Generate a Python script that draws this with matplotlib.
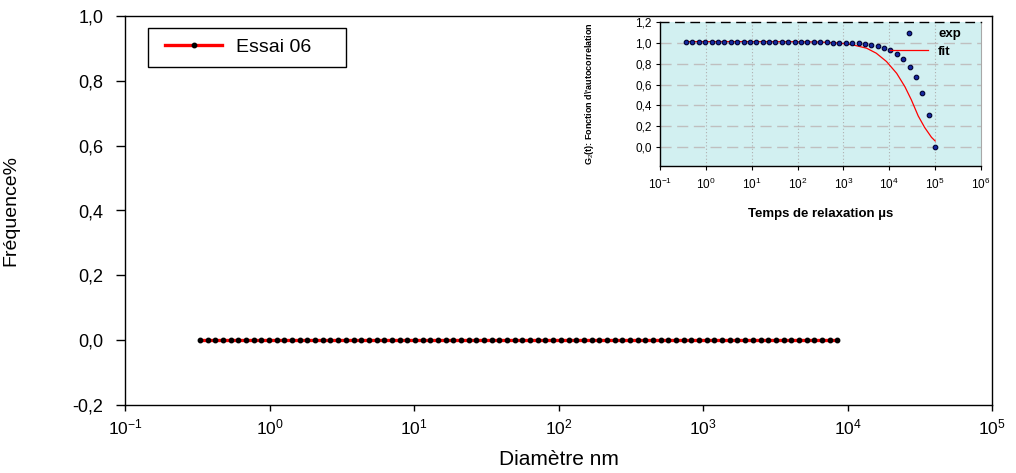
import numpy as np
import matplotlib
matplotlib.use("Agg")
import matplotlib.pyplot as plt
from matplotlib.ticker import FixedLocator, FuncFormatter, NullLocator
from matplotlib.lines import Line2D
from matplotlib.patches import Rectangle

plt.rcParams['font.family'] = ['Liberation Sans', 'DejaVu Sans']
plt.rcParams['mathtext.fontset'] = 'custom'
plt.rcParams['mathtext.rm'] = 'Liberation Sans'
plt.rcParams['mathtext.it'] = 'Liberation Sans:italic'
plt.rcParams['mathtext.bf'] = 'Liberation Sans:bold'

# --- size distribution (main panel) ---
diam_nm = np.geomspace(0.33, 8500, 84)          # diameter grid of the instrument
freq_pct = [0.0] * len(diam_nm)                  # measured frequency (%)

# --- autocorrelation (inset) ---
tau_us = np.geomspace(0.37, 1.0e5, 40)           # relaxation time grid
g2_exp = [1.006, 1.006, 1.006, 1.006, 1.006, 1.006, 1.006, 1.006, 1.006, 1.006,
          1.006, 1.006, 1.006, 1.006, 1.006, 1.006, 1.006, 1.006, 1.006, 1.006,
          1.006, 1.005, 1.004, 1.003, 1.001, 0.999,
          0.997, 0.994, 0.988, 0.981, 0.968, 0.952, 0.930, 0.894, 0.843, 0.772,
          0.670, 0.519, 0.305, 0.003]
fit_tau_us = [0.37, 1, 10, 100, 300, 830, 1600, 3200, 5200, 8700, 14500,
              21900, 30200, 42700, 58900, 83200, 100000]
g2_fit = [1.012, 1.012, 1.012, 1.011, 1.008, 0.998, 0.981, 0.949, 0.901, 0.821,
          0.708, 0.580, 0.455, 0.300, 0.190, 0.095, 0.060]

main_yticks = [-0.2, 0.0, 0.2, 0.4, 0.6, 0.8, 1.0]
inset_yticks = [0.0, 0.2, 0.4, 0.6, 0.8, 1.0, 1.2]


def comma_fmt(v, pos=None):
    return f"{v:.1f}".replace('.', ',')


def pow10_fmt(v, pos=None):
    return r'$\mathdefault{10^{%d}}$' % int(round(np.log10(v)))


W, H = 1016, 473
fig = plt.figure(figsize=(W / 100, H / 100), dpi=100)


def fx(px):
    return px / W


def fy(py):
    return 1 - py / H


# ---------------- main axes ----------------
ax = fig.add_axes([fx(125), fy(405), (992 - 125) / W, (405 - 16) / H])
ax.set_xscale('log')
ax.set_xlim(1e-1, 1e5)
ax.set_ylim(-0.2, 1.0)
ax.plot(diam_nm, freq_pct, color='#ff0000', lw=2.4, zorder=2,
        marker='o', ms=3.2, mfc='black', mec='black')
ax.xaxis.set_major_locator(FixedLocator([10.0 ** k for k in range(-1, 6)]))
ax.xaxis.set_minor_locator(NullLocator())
ax.xaxis.set_major_formatter(FuncFormatter(pow10_fmt))
ax.yaxis.set_major_locator(FixedLocator(main_yticks))
ax.yaxis.set_major_formatter(FuncFormatter(comma_fmt))
ax.tick_params(axis='both', direction='out', width=1)
ax.tick_params(axis='y', length=6.5, pad=9, labelsize=13)
ax.tick_params(axis='x', length=4, pad=5, labelsize=12.5)
for s in ax.spines.values():
    s.set_linewidth(1)
ax.set_xlabel('Diamètre nm', fontsize=15, labelpad=9)
ax.set_ylabel('Fréquence%', fontsize=14, labelpad=38)

# legend box and entry
fig.add_artist(Rectangle((fx(148), fy(67)), (346 - 148) / W, (67 - 28) / H,
                         transform=fig.transFigure, fill=False,
                         edgecolor='black', lw=1, zorder=5))
leg_handle = Line2D([], [], color='#ff0000', lw=2.4, marker='o', ms=3.2,
                    mfc='black', mec='black')
ax.legend([leg_handle], ['Essai 06'], loc='center left',
          bbox_to_anchor=(fx(165), fy(47)), bbox_transform=fig.transFigure,
          borderaxespad=0, borderpad=0, frameon=False,
          fontsize=14, handlelength=2.94, handletextpad=0.72, numpoints=1)

# ---------------- inset ----------------
ins = fig.add_axes([fx(660), fy(166), (981 - 660) / W, (166 - 22) / H])
ins.set_facecolor('#d2f0f1')
ins.set_xscale('log')
ins.set_xlim(1e-1, 1e6)
ins.set_ylim(-0.18, 1.2)
ins.xaxis.set_major_locator(FixedLocator([10.0 ** k for k in range(-1, 7)]))
ins.xaxis.set_minor_locator(NullLocator())
ins.xaxis.set_major_formatter(FuncFormatter(pow10_fmt))
ins.yaxis.set_major_locator(FixedLocator(inset_yticks))
ins.yaxis.set_major_formatter(FuncFormatter(comma_fmt))
ins.tick_params(axis='both', direction='out', length=3, width=0.8,
                labelsize=8.5, pad=3)
ins.tick_params(axis='x', pad=5)
for yv in inset_yticks[:-1]:
    ins.axhline(yv, color='#bfbfbf', lw=1.0, ls=(0, (8, 4)), zorder=0.5)
for k in range(0, 6):
    ins.axvline(10.0 ** k, color='#b0b0b0', lw=0.8, ls=(0, (1, 2)), zorder=0.5)
ins.spines['left'].set_linewidth(1)
ins.spines['bottom'].set_linewidth(1)
ins.spines['right'].set_color('#a8a8a8')
ins.spines['right'].set_linewidth(0.8)
ins.spines['top'].set_linestyle((0, (6, 5)))
ins.spines['top'].set_linewidth(1)

ins.plot(fit_tau_us, g2_fit, color='#ff0000', lw=0.9, zorder=2)
ins.plot(tau_us, g2_exp, ls='none', marker='o', ms=3.3, mfc='#1428a0',
         mec='#000030', mew=0.8, zorder=3)

ins.set_xlabel('Temps de relaxation µs', fontsize=9.5, fontweight='bold', labelpad=11)
ins.set_ylabel(r'G$_2$(t): Fonction d\'autocorrelation', fontsize=6.5,
               fontweight='bold', labelpad=28)

h_exp = Line2D([], [], ls='none', marker='o', ms=3.3, mfc='#1428a0',
               mec='#000030', mew=0.8)
h_fit = Line2D([], [], color='#ff0000', lw=0.9)
ins.legend([h_exp, h_fit], ['exp', 'fit'], loc='upper left',
           bbox_to_anchor=(fx(890), fy(28)), bbox_transform=fig.transFigure,
           frameon=False, borderaxespad=0, borderpad=0, handlelength=2.88,
           handletextpad=0.76, labelspacing=0.4, numpoints=1,
           prop={'size': 9.5, 'weight': 'bold'})

fig.savefig('out.png', dpi=100)
